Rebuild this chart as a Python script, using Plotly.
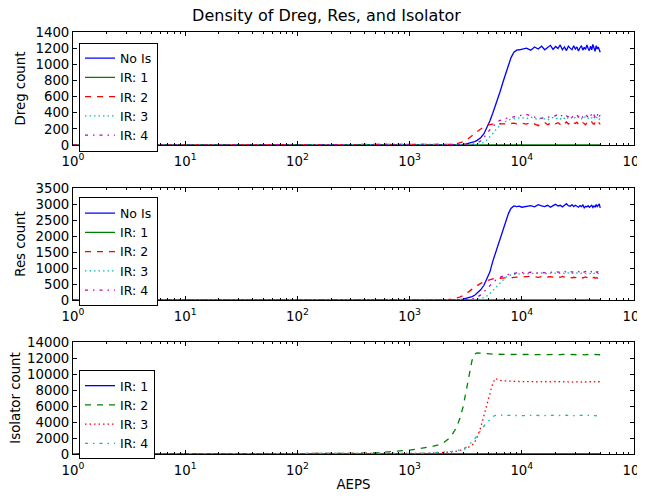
import plotly.graph_objects as go

# ---------------- data ----------------
aeps = [1, 2, 5, 10, 20, 50, 100, 200, 300, 500, 700, 1000,
        1200, 1400, 1600, 1800, 2000, 2200, 2400, 2600, 2800, 3000,
        3200, 3400, 3600, 3800, 4000, 4300, 4600, 4900, 5200, 5500,
        5800, 6100, 6400, 6800, 7200, 7600, 8000, 8500, 9000, 9500,
        10000, 11000, 12000, 13000, 14000, 15000, 16000, 17000, 18000, 19000, 20000,
        21000, 22000, 23000, 24000, 25000, 26000, 27000, 28000, 29000, 30000,
        31000, 32000, 33000, 34000, 35000, 36000, 37000, 38000, 39000, 40000,
        41000, 42000, 43000, 44000, 45000, 46000, 47000, 48000, 49000, 50000]

ir1_zero = [0, 0, 0, 0, 0, 0, 0, 0, 0, 0, 0, 0,
            0, 0, 0, 0, 0, 0, 0, 0, 0, 0,
            0, 0, 0, 0, 0, 0, 0, 0, 0, 0,
            0, 0, 0, 0, 0, 0, 0, 0, 0, 0,
            0, 0, 0, 0, 0, 0, 0, 0, 0, 0, 0,
            0, 0, 0, 0, 0, 0, 0, 0, 0, 0,
            0, 0, 0, 0, 0, 0, 0, 0, 0, 0,
            0, 0, 0, 0, 0, 0, 0, 0, 0, 0]

# Dreg counts
dreg_nois = [0, 0, 0, 0, 0, 0, 0, 0, 0, 0, 0, 0,
             0, 0, 0, 0, 0, 1, 2, 3, 5, 8,
             13, 20, 30, 42, 58, 90, 140, 215, 300, 390,
             480, 570, 660, 780, 890, 990, 1080, 1150, 1175, 1180,
             1185, 1200, 1175, 1215, 1190, 1225, 1180, 1210, 1235, 1185, 1220,
             1195, 1240, 1180, 1215, 1170, 1225, 1200, 1180, 1230, 1190,
             1215, 1165, 1205, 1230, 1175, 1210, 1185, 1240, 1195, 1170,
             1225, 1180, 1245, 1200, 1160, 1230, 1190, 1215, 1170, 1150]
dreg_ir2 = [0, 0, 0, 0, 0, 0, 0, 0, 0, 0, 0, 0,
            0, 0, 0, 0, 0, 3, 8, 15, 25, 40,
            60, 85, 110, 140, 165, 200, 225, 245, 255, 258,
            262, 258, 265, 262, 268, 260, 266, 272, 262, 275,
            270, 258, 282, 262, 240, 268, 278, 252, 270, 282, 262,
            276, 256, 282, 266, 286, 262, 272, 250, 276, 266,
            282, 256, 242, 262, 276, 266, 250, 272, 282, 262,
            276, 286, 266, 256, 282, 270, 260, 286, 266, 255]
dreg_ir3 = [0, 0, 0, 0, 0, 0, 0, 0, 0, 0, 0, 0,
            0, 0, 0, 0, 0, 0, 0, 0, 0, 0,
            0, 0, 0, 2, 5, 15, 35, 65, 100, 140,
            180, 215, 245, 275, 295, 310, 318, 325, 330, 335,
            340, 325, 345, 330, 315, 335, 320, 310, 330, 340, 325,
            335, 320, 345, 330, 350, 325, 340, 335, 320, 345,
            330, 350, 340, 325, 345, 335, 355, 340, 330, 350,
            345, 335, 360, 340, 325, 350, 335, 345, 320, 335]
dreg_ir4 = [0, 0, 0, 0, 0, 0, 0, 0, 0, 0, 0, 0,
            0, 0, 0, 0, 0, 0, 0, 0, 0, 0,
            0, 3, 8, 15, 25, 50, 90, 140, 190, 230,
            265, 290, 305, 320, 330, 335, 340, 345, 355, 360,
            370, 380, 360, 345, 335, 330, 345, 340, 355, 350, 365,
            380, 355, 370, 345, 360, 350, 375, 345, 365, 355,
            370, 350, 380, 360, 345, 375, 355, 365, 340, 370,
            360, 385, 350, 370, 345, 380, 360, 400, 355, 370]

# Res counts
res_nois = [0, 0, 0, 0, 0, 0, 0, 0, 0, 0, 0, 0,
            0, 0, 0, 0, 0, 2, 5, 8, 15, 25,
            45, 70, 105, 150, 210, 320, 460, 650, 880, 1200,
            1450, 1700, 1950, 2200, 2480, 2700, 2860, 2940, 2920, 2935,
            2900, 2930, 2950, 2910, 2980, 2940, 2920, 2960, 2900, 2950, 2990,
            2940, 2960, 2910, 2970, 3010, 2950, 2930, 2980, 2920, 2960,
            2940, 2900, 2950, 2920, 2970, 2880, 2930, 2910, 2950, 2900,
            2930, 2960, 2890, 2940, 2910, 2980, 2920, 2950, 3000, 2880]
res_ir2 = [0, 0, 0, 0, 0, 0, 0, 0, 0, 0, 0, 0,
           0, 0, 0, 0, 5, 15, 30, 55, 90, 140,
           200, 270, 340, 400, 450, 520, 570, 610, 640, 660,
           670, 680, 690, 685, 695, 700, 690, 705, 710, 720,
           730, 720, 740, 725, 710, 735, 745, 720, 730, 715, 740,
           725, 710, 735, 720, 700, 715, 705, 690, 710, 700,
           715, 695, 720, 705, 690, 710, 720, 700, 715, 690,
           705, 720, 695, 710, 680, 700, 690, 660, 700, 685]
res_ir3 = [0, 0, 0, 0, 0, 0, 0, 0, 0, 0, 0, 0,
           0, 0, 0, 0, 0, 0, 0, 0, 0, 0,
           0, 0, 3, 8, 15, 35, 75, 130, 200, 290,
           380, 470, 550, 640, 710, 760, 790, 805, 815, 820,
           830, 820, 840, 835, 825, 845, 830, 820, 835, 840, 825,
           840, 830, 845, 825, 835, 850, 830, 840, 820, 835,
           845, 830, 820, 840, 835, 850, 825, 840, 830, 820,
           835, 845, 820, 830, 840, 815, 835, 825, 840, 830]
res_ir4 = [0, 0, 0, 0, 0, 0, 0, 0, 0, 0, 0, 0,
           0, 0, 0, 0, 0, 0, 0, 0, 0, 3,
           8, 15, 30, 55, 90, 160, 250, 350, 450, 540,
           610, 670, 710, 750, 780, 800, 815, 830, 845, 850,
           860, 850, 870, 855, 845, 865, 850, 870, 860, 875, 855,
           880, 860, 870, 895, 865, 880, 900, 870, 885, 860,
           875, 890, 865, 910, 880, 870, 895, 875, 860, 885,
           870, 895, 880, 905, 870, 885, 860, 900, 875, 880]

# Isolator counts
iso_ir2 = [0, 0, 0, 0, 0, 10, 30, 50, 70, 150, 280, 480,
           650, 800, 950, 1150, 1400, 1850, 2450, 3250, 4400, 5900,
           7900, 9900, 11700, 12500, 12650, 12600, 12550, 12500, 12480, 12460,
           12450, 12470, 12440, 12460, 12450, 12430, 12460, 12440, 12450, 12430,
           12450, 12420, 12460, 12430, 12410, 12450, 12440, 12400, 12430, 12460, 12420,
           12440, 12410, 12450, 12430, 12400, 12440, 12420, 12450, 12410, 12430,
           12400, 12440, 12420, 12450, 12410, 12430, 12390, 12440, 12420, 12400,
           12430, 12410, 12450, 12400, 12440, 12420, 12380, 12430, 12410, 12420]
iso_ir3 = [0, 0, 0, 0, 0, 0, 0, 0, 0, 20, 30, 50,
           70, 90, 110, 140, 170, 210, 260, 330, 420, 540,
           700, 900, 1100, 1450, 2100, 3300, 4800, 6200, 7600, 8800,
           9450, 9300, 9200, 9150, 9120, 9100, 9090, 9080, 9070, 9060,
           9050, 9080, 9020, 9060, 9000, 9040, 9070, 9010, 9050, 9030, 9060,
           9020, 9060, 9000, 9040, 9080, 9010, 9050, 8990, 9030, 9060,
           9010, 9050, 9020, 8980, 9040, 9060, 9000, 9030, 9050, 9010,
           9040, 8990, 9030, 9060, 9000, 9020, 9050, 8980, 9040, 9010]
iso_ir4 = [0, 0, 0, 0, 0, 0, 0, 0, 0, 20, 40, 70,
           90, 110, 140, 170, 210, 260, 320, 400, 500, 650,
           850, 1150, 1500, 1900, 2350, 2950, 3500, 3950, 4350, 4650,
           4820, 4860, 4850, 4840, 4830, 4850, 4820, 4840, 4830, 4810,
           4820, 4790, 4840, 4810, 4780, 4830, 4800, 4850, 4790, 4820, 4810,
           4840, 4790, 4820, 4800, 4850, 4780, 4830, 4810, 4790, 4840,
           4800, 4830, 4780, 4820, 4850, 4790, 4810, 4840, 4780, 4820,
           4810, 4850, 4790, 4830, 4800, 4770, 4840, 4810, 4790, 4800]

labels_top = ["No Is", "IR: 1", "IR: 2", "IR: 3", "IR: 4"]
labels_iso = ["IR: 1", "IR: 2", "IR: 3", "IR: 4"]
x_tick_vals = [1, 10, 100, 1000, 10000, 100000]
x_tick_text = ["10<sup>0</sup>", "10<sup>1</sup>", "10<sup>2</sup>",
               "10<sup>3</sup>", "10<sup>4</sup>", "10<sup>5</sup>"]

for name, arr in [("ir1_zero", ir1_zero), ("dreg_nois", dreg_nois), ("dreg_ir2", dreg_ir2),
                  ("dreg_ir3", dreg_ir3), ("dreg_ir4", dreg_ir4), ("res_nois", res_nois),
                  ("res_ir2", res_ir2), ("res_ir3", res_ir3), ("res_ir4", res_ir4),
                  ("iso_ir2", iso_ir2), ("iso_ir3", iso_ir3), ("iso_ir4", iso_ir4)]:
    assert len(arr) == len(aeps), (name, len(arr), len(aeps))

# ---------------- styles ----------------
BLUE, GREEN, RED, CYAN, MAG = "#0000ff", "#008000", "#ff0000", "#00bfbf", "#bf00bf"
SOLID, DASH, DOT, DASHDOT = "solid", "6px,6px", "1.5px,3px", "3px,5px,1.5px,5px"

fig = go.Figure()


def add(y, name, color, dash, xa, ya, legend):
    fig.add_trace(go.Scatter(
        x=aeps, y=y, name=name, mode="lines",
        line=dict(color=color, width=1.3, dash=dash),
        xaxis=xa, yaxis=ya, legend=legend, showlegend=True))


top_series = [dreg_nois, ir1_zero, dreg_ir2, dreg_ir3, dreg_ir4]
mid_series = [res_nois, ir1_zero, res_ir2, res_ir3, res_ir4]
styles5 = [(BLUE, SOLID), (GREEN, SOLID), (RED, DASH), (CYAN, DOT), (MAG, DASHDOT)]
for s, lab, (c, d) in zip(top_series, labels_top, styles5):
    add(s, lab, c, d, "x", "y", "legend")
for s, lab, (c, d) in zip(mid_series, labels_top, styles5):
    add(s, lab, c, d, "x2", "y2", "legend2")
bot_series = [ir1_zero, iso_ir2, iso_ir3, iso_ir4]
styles4 = [(BLUE, SOLID), (GREEN, DASH), (RED, DOT), (CYAN, DASHDOT)]
for s, lab, (c, d) in zip(bot_series, labels_iso, styles4):
    add(s, lab, c, d, "x3", "y3", "legend3")

minor_vals = [m * 10 ** k for k in range(5) for m in range(2, 10)]

FONT = dict(family="DejaVu Sans", size=13.3, color="black")
LEG_FONT = dict(family="DejaVu Sans", size=12.5, color="black")

# page body has an 8px margin, so the figure is 8px smaller than the window
W, H = 637, 490


def xaxis(anchor, title=None):
    d = dict(type="log", range=[0, 5], anchor=anchor, automargin=False,
             tickvals=x_tick_vals, ticktext=x_tick_text,
             ticks="inside", ticklen=4, tickcolor="black",
             ticklabelstandoff=4, ticklabeloverflow="allow",
             showline=True, linecolor="black", linewidth=1, mirror="ticks",
             showgrid=False, zeroline=False, tickfont=FONT,
             minor=dict(tickvals=minor_vals, ticks="inside", ticklen=2,
                        tickcolor="black", showgrid=False))
    if title:
        d["title"] = dict(text=title, font=FONT, standoff=2)
    return d


def yaxis(anchor, domain, rng, dtick, title):
    return dict(domain=domain, anchor=anchor, range=rng, dtick=dtick,
                automargin=False, tickformat="d",
                ticks="inside", ticklen=4, tickcolor="black",
                showline=True, linecolor="black", linewidth=1, mirror="ticks",
                showgrid=False, zeroline=False, tickfont=FONT,
                title=dict(text=title, font=FONT, standoff=6))


def legend(ytop):
    return dict(x=0.0107, y=ytop, xanchor="left", yanchor="top",
                bgcolor="white", bordercolor="black", borderwidth=1,
                font=LEG_FONT, tracegroupgap=0, itemwidth=30)


fig.update_layout(
    width=W, height=H,
    margin=dict(l=65, r=11, t=24, b=44),
    paper_bgcolor="white", plot_bgcolor="white",
    font=FONT,
    title=dict(text="Density of Dreg, Res, and Isolator", x=0.5, xref="container",
               y=1 - 2 / H, yref="container", yanchor="top", xanchor="center",
               pad=dict(t=0),
               font=dict(family="DejaVu Sans", size=16, color="black")),
    xaxis=xaxis("y"),
    xaxis2=xaxis("y2"),
    xaxis3=xaxis("y3", "AEPS"),
    yaxis=yaxis("x", [0.7322, 1.0], [0, 1400], 200, "Dreg count"),
    yaxis2=yaxis("x2", [0.3649, 0.6303], [0, 3500], 500, "Res count"),
    yaxis3=yaxis("x3", [0.0, 0.2654], [0, 14000], 2000, "Isolator count"),
    legend=legend(0.975),
    legend2=legend(0.608),
    legend3=legend(0.199),
)

fig.write_html("out.html")
